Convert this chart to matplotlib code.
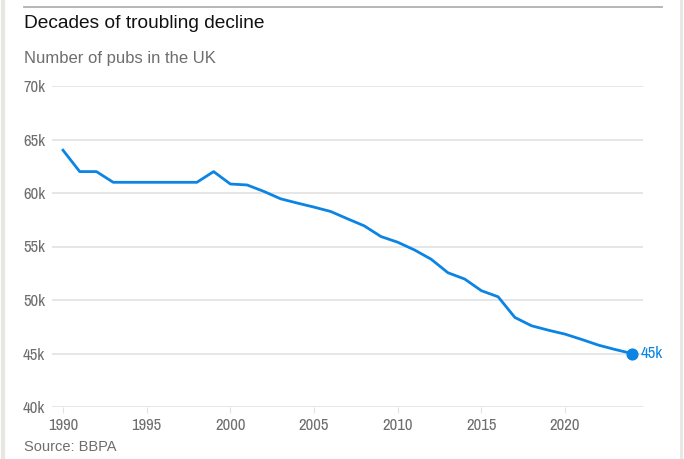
import matplotlib.pyplot as plt
from matplotlib.lines import Line2D
from matplotlib import font_manager

years = list(range(1990, 2025))
pubs = [64.0, 62.0, 62.0, 61.0, 61.0, 61.0, 61.0, 61.0, 61.0, 62.0,
        60.84, 60.75, 60.15, 59.46, 59.06, 58.68, 58.27, 57.59, 56.93, 55.93,
        55.40, 54.68, 53.81, 52.55, 51.96, 50.87, 50.30, 48.37, 47.59, 47.18,
        46.81, 46.31, 45.78, 45.37, 45.0]
y_ticks = [40, 45, 50, 55, 60, 65, 70]
x_ticks = [1990, 1995, 2000, 2005, 2010, 2015, 2020]

blue = '#0b84e3'
grey_text = '#6e6e6e'
sans = ['Liberation Sans', 'DejaVu Sans']

# condensed face for the axis labels, if one is installed
names = sorted({f.name for f in font_manager.fontManager.ttflist})
narrow_name = next((n for n in names if 'Narrow' in n or 'Condensed' in n), None)
narrow = [narrow_name, 'DejaVu Sans'] if narrow_name else ['DejaVu Sans']

fig = plt.figure(figsize=(6.84, 4.59), dpi=100)
W, H = 684, 459
ax = fig.add_axes([52 / W, 1 - 407 / H, 591 / W, 321 / H])

ax.plot(years, pubs, color=blue, lw=2, solid_joinstyle='round', zorder=3)
ax.scatter([years[-1]], [pubs[-1]], s=60, color=blue, zorder=4, clip_on=False)
ax.annotate(f'{pubs[-1]:.0f}k', (years[-1], pubs[-1]), xytext=(6.5, 0),
            textcoords='offset points', va='center', ha='left',
            color=blue, fontsize=12, family=narrow, stretch='condensed')

ax.set_xlim(1990 - 11 / 16.74, 2024 + 11 / 16.74)
ax.set_ylim(40, 70)
ax.set_yticks(y_ticks)
ax.set_yticklabels([f'{v}k' for v in y_ticks])
ax.set_xticks(x_ticks)
ax.grid(axis='y', color='#e2e2e2', lw=1.2)
ax.set_axisbelow(True)
for s in ax.spines.values():
    s.set_visible(False)
ax.tick_params(axis='y', length=0, pad=5, labelsize=12, labelcolor=grey_text)
ax.tick_params(axis='x', length=4, width=0.8, color='#e2e2e2', pad=4,
               labelsize=12, labelcolor=grey_text)
for lab in ax.get_xticklabels() + ax.get_yticklabels():
    lab.set_family(narrow)
    lab.set_stretch('condensed')

# page furniture
fig.add_artist(Line2D([24 / W, 662 / W], [1 - 7 / H] * 2, color='#b0b0b0', lw=1.3))
fig.add_artist(Line2D([3 / W, 3 / W], [0, 1], color='#e8e6e1', lw=3))
fig.add_artist(Line2D([681 / W, 681 / W], [0, 1], color='#e8e6e1', lw=2))
fig.text(24 / W, 1 - 23 / H, 'Decades of troubling decline', fontsize=13.8,
         color='#111111', va='center', family=sans)
fig.text(24 / W, 1 - 58 / H, 'Number of pubs in the UK', fontsize=12,
         color=grey_text, va='center', family=sans)
fig.text(24 / W, 1 - 447 / H, 'Source: BBPA', fontsize=10.5,
         color=grey_text, va='center', family=sans)

fig.savefig('out.png', dpi=100)
